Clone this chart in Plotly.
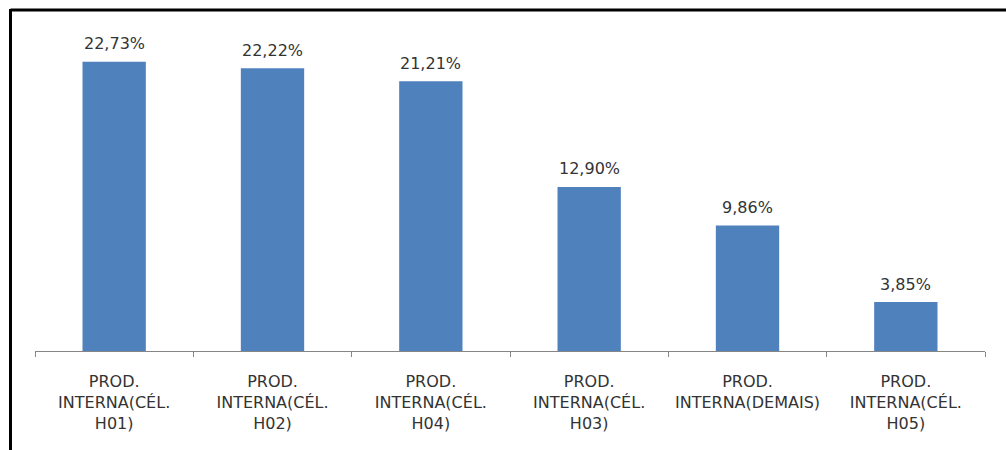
import plotly.graph_objects as go

categories = [
    "PROD.<br>INTERNA(CÉL.<br>H01)",
    "PROD.<br>INTERNA(CÉL.<br>H02)",
    "PROD.<br>INTERNA(CÉL.<br>H04)",
    "PROD.<br>INTERNA(CÉL.<br>H03)",
    "PROD.<br>INTERNA(DEMAIS)",
    "PROD.<br>INTERNA(CÉL.<br>H05)",
]
values = [22.73, 22.22, 21.21, 12.90, 9.86, 3.85]
labels = [f"{v:.2f}".replace(".", ",") + "%" for v in values]

W, H = 1006, 450
ML, MR, MT, MB = 35, 21, 33, 99
pw, ph = W - ML - MR, H - MT - MB


def px_x(x):
    return (x - ML) / pw


def px_y(y):
    return (H - MB - y) / ph


fig = go.Figure()
fig.add_trace(go.Bar(x=categories, y=values, marker=dict(color="#4F81BD", line=dict(width=0)),
                     hoverinfo="skip"))

for c, v, t in zip(categories, values, labels):
    fig.add_annotation(x=c, y=v, text=t, showarrow=False, yshift=18,
                       font=dict(family="DejaVu Sans", size=16, color="#333333"))

frame = dict(color="black", width=3)
fig.add_shape(type="line", xref="paper", yref="paper", x0=px_x(10.5), x1=px_x(1010),
              y0=px_y(10), y1=px_y(10), line=frame)
fig.add_shape(type="line", xref="paper", yref="paper", x0=px_x(10.5), x1=px_x(10.5),
              y0=px_y(9), y1=px_y(455), line=frame)

fig.update_layout(
    width=W, height=H,
    margin=dict(l=ML, r=MR, t=MT, b=MB),
    paper_bgcolor="white", plot_bgcolor="white",
    bargap=0.6, showlegend=False,
    font=dict(family="DejaVu Sans", size=16, color="#333333"),
    xaxis=dict(showline=True, linecolor="#868686", linewidth=1, ticks="outside",
               tickson="boundaries", ticklen=5, tickcolor="#868686", showgrid=False,
               tickfont=dict(family="DejaVu Sans", size=16, color="#333333"),
               tickangle=0, ticklabelstandoff=16),
    yaxis=dict(visible=False, range=[0, 25], showgrid=False, zeroline=False),
)

fig.write_html("out.html")
